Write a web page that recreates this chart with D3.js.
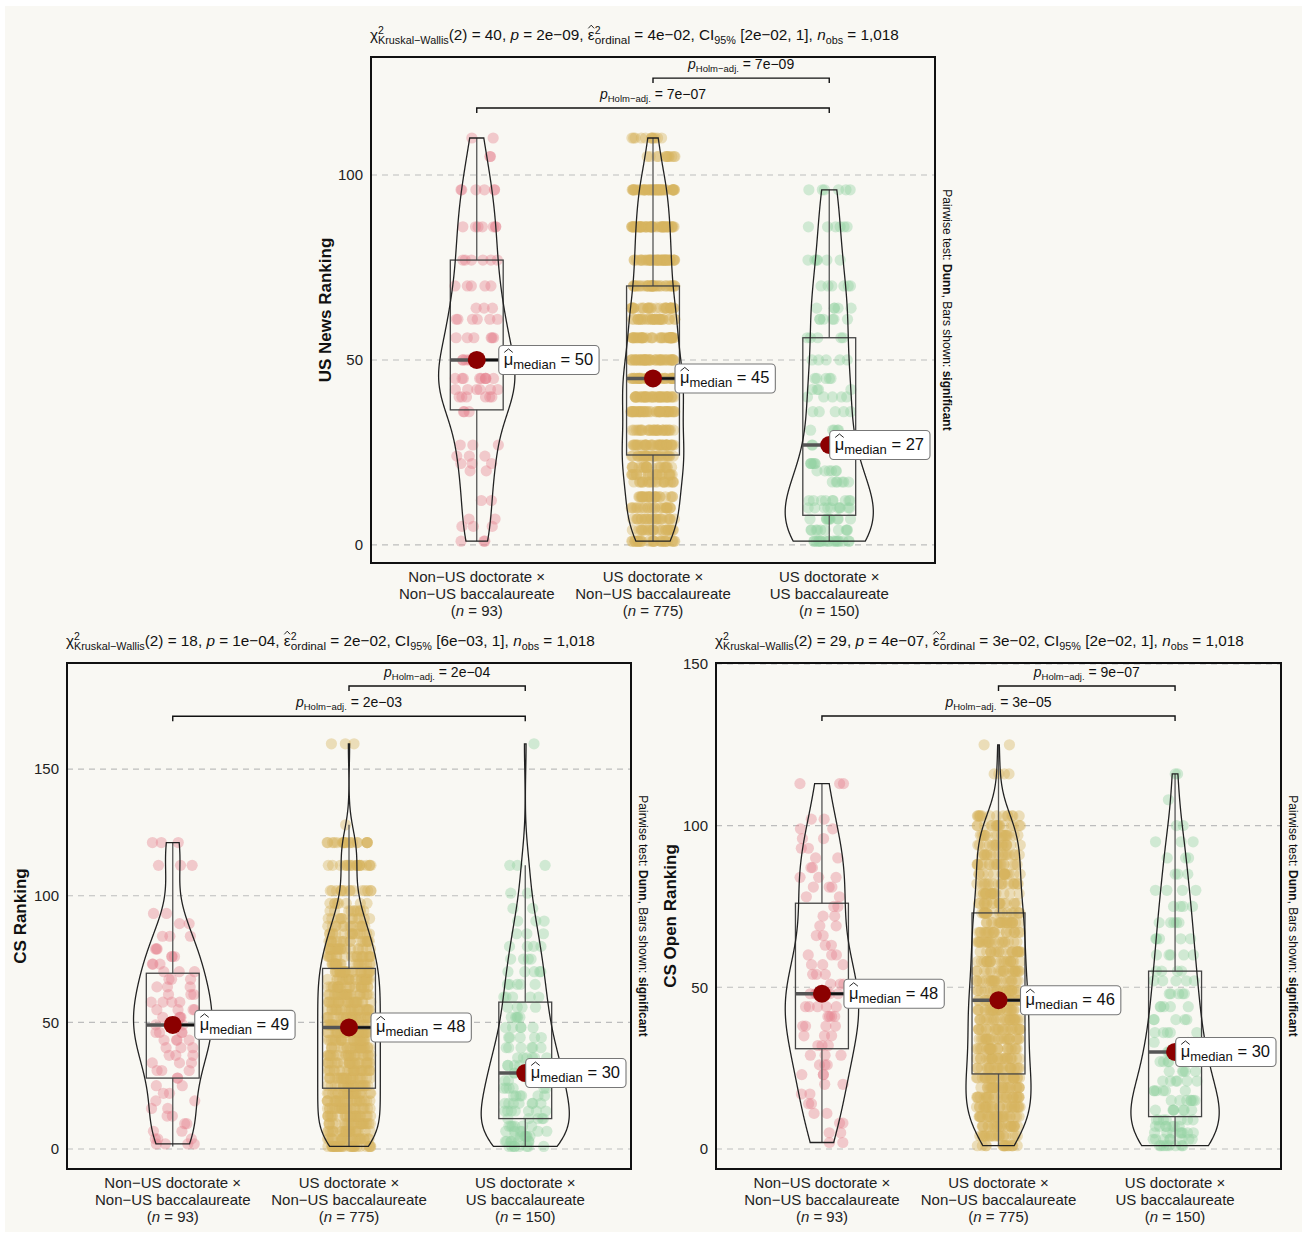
<!DOCTYPE html>
<html><head><meta charset="utf-8">
<script src="https://cdn.jsdelivr.net/npm/d3@7"></script>
<style>
body{margin:0;background:#fff;}
svg text{font-family:"Liberation Sans",Arial,Helvetica,sans-serif;white-space:pre;fill:#111;}
</style></head><body>
<svg id="c" width="1307" height="1236"></svg>
<script>
// ---------------- DATA ----------------
const categories = ["g1","g2","g3"];
const catLine1 = ["Non\u2212US doctorate \u00d7","US doctorate \u00d7","US doctorate \u00d7"];
const catLine2 = ["Non\u2212US baccalaureate","Non\u2212US baccalaureate","US baccalaureate"];
const groupN = [93, 775, 150];
const groupColors = ["#E6818F", "#D6B45F", "#93D2A3"];

// Panel 1: US News Ranking
const usNewsLevels = [
  [1,5,7,12,20,22,24,27,36,40,42,45,50,56,61,64,70,77,86,96,105,110],
  [1,4,7,10,13,17,19,21,24,27,31,36,40,45,50,56,61,64,70,77,86,96,105,110],
  [1,4,7,10,12,17,20,22,27,31,36,40,42,45,50,56,61,64,70,77,86,96]
];
const usNewsCounts = [
  [3,3,2,2,2,3,3,3,3,6,6,9,5,6,6,3,5,6,7,6,2,2],
  [30,25,25,25,25,22,22,22,30,40,30,45,40,50,45,40,30,30,35,45,50,45,12,12],
  [18,10,10,10,9,6,6,6,6,5,5,5,4,5,5,5,6,5,6,6,6,6]
];
const usNewsQ1 = [36.5, 24.3, 8];
const usNewsMedian = [50, 45, 27];
const usNewsQ3 = [77, 70, 56];
const usNewsLow = [1, 1, 1];
const usNewsHigh = [110, 110, 96];
const usNewsStats = {chi:"40", p:"2e\u221209", eps:"4e\u221202", ci:"[2e\u221202, 1]", nobs:"1,018"};
const usNewsPairs = [[1,2,"7e\u221209",126.2],[0,2,"7e\u221207",118.1]];

// Panel 2: CS Ranking
const csLevels = [
  [2,4,7,10,13,16,19,22,25,28,31,34,37,40,43,46,49,52,55,58,61,64,67,70,73,76,79,84,89,93,112,121],
  [1,4,7,10,13,16,19,22,25,28,31,34,37,40,43,46,49,52,55,58,61,64,67,70,73,76,79,82,85,88,91,94,97,102,112,121,128,160],
  [1,3,5,7,9,12,15,18,21,24,27,30,33,36,40,44,48,52,56,60,65,70,75,80,85,90,95,101,112,160]
];
const csCounts = [
  [4,3,2,2,2,2,2,2,2,2,3,3,3,3,4,4,4,4,4,4,3,3,3,3,3,3,3,3,2,2,3,3],
  [30,24,24,24,24,24,24,24,24,24,24,24,24,24,24,24,24,24,24,24,24,24,24,24,22,20,20,18,16,14,12,10,8,15,20,20,1,3],
  [8,7,7,6,6,5,7,7,6,6,6,5,6,6,6,5,5,5,4,5,5,5,4,4,3,3,2,2,3,1]
];
const csQ1 = [28, 24, 12];
const csMedian = [49, 48, 30];
const csQ3 = [69.4, 71.3, 58];
const csLow = [1, 1, 1];
const csHigh = [121, 128, 112];
const csStats = {chi:"18", p:"1e\u221204", eps:"2e\u221202", ci:"[6e\u221203, 1]", nobs:"1,018"};
const csPairs = [[1,2,"2e\u221204",182.8],[0,2,"2e\u221203",170.9]];

// Panel 3: CS Open Ranking
const openLevels = [
  [2,5,8,11,14,17,20,23,26,29,32,35,38,41,44,48,51,54,57,60,63,66,69,72,75,78,81,84,87,90,93,96,99,102,113],
  [1,4,7,10,13,16,19,22,25,28,31,34,37,40,43,46,49,52,55,58,61,64,67,70,73,76,79,82,85,88,91,94,97,100,103,116,125],
  [1,3,5,7,9,12,15,18,21,24,27,30,33,36,40,44,48,52,55,60,65,70,75,80,85,90,95,100,108,116]
];
const openCounts = [
  [2,2,2,2,2,2,2,3,3,3,3,3,4,4,5,6,3,3,3,3,2,2,2,2,2,2,3,3,2,2,2,2,2,2,3],
  [16,20,24,26,27,27,27,27,24,24,24,24,24,24,25,25,22,22,22,22,21,21,21,21,21,18,18,17,17,18,17,17,17,16,14,4,2],
  [8,8,8,7,7,7,7,6,6,5,5,5,5,5,5,5,5,5,4,5,5,5,4,4,3,3,3,2,1,2]
];
const openQ1 = [31, 23.2, 10];
const openMedian = [48, 46, 30];
const openQ3 = [76, 73, 55];
const openLow = [2, 1, 1];
const openHigh = [113, 125, 116];
const openStats = {chi:"29", p:"4e\u221207", eps:"3e\u221202", ci:"[2e\u221202, 1]", nobs:"1,018"};
const openPairs = [[1,2,"9e\u221207",143.2],[0,2,"3e\u221205",133.9]];

const yTicks1 = [0, 50, 100];
const yTicks2 = [0, 50, 100, 150];
const yTicks3 = [0, 50, 100, 150];

// ---------------- LAYOUT ----------------
const panels = [
  {title:"US News Ranking", levels:usNewsLevels, counts:usNewsCounts, q1:usNewsQ1, med:usNewsMedian, q3:usNewsQ3, lo:usNewsLow, hi:usNewsHigh, stats:usNewsStats, pairs:usNewsPairs, ticks:yTicks1,
   L:371, R:935, T:57, B:563, dom:[-4.9,131.9], ytx:325, seed:11},
  {title:"CS Ranking", levels:csLevels, counts:csCounts, q1:csQ1, med:csMedian, q3:csQ3, lo:csLow, hi:csHigh, stats:csStats, pairs:csPairs, ticks:yTicks2,
   L:67, R:631, T:663, B:1169, dom:[-7.9,191.9], ytx:20, seed:23},
  {title:"CS Open Ranking", levels:openLevels, counts:openCounts, q1:openQ1, med:openMedian, q3:openQ3, lo:openLow, hi:openHigh, stats:openStats, pairs:openPairs, ticks:yTicks3,
   L:716, R:1281, T:663, B:1169, dom:[-6.2,150.3], ytx:670, seed:37}
];

const svg = d3.select("#c");
svg.append("rect").attr("x",0).attr("y",0).attr("width",1307).attr("height",1236).attr("fill","#fff");
svg.append("rect").attr("x",5).attr("y",6).attr("width",1297).attr("height",1226).attr("fill","#F9F8F3");

function rich(parent, x, y, segs, anchor) {
  const g = parent.append("g");
  let cx = 0;
  const put = (s, xx) => {
    const t = g.append("text").attr("x", xx).attr("y", s.dy || 0)
      .style("font-size", s.size + "px").text(s.t);
    if (s.italic) t.style("font-style", "italic");
    if (s.bold) t.style("font-weight", "bold");
    const w = t.node().getComputedTextLength();
    if (s.hat) {
      const a = -s.size * 0.76, b = -s.size * 0.97;
      g.append("path").attr("d", `M${xx + 0.5},${a}L${xx + w / 2},${b}L${xx + w - 0.5},${a}`)
        .attr("fill", "none").attr("stroke", "#111").attr("stroke-width", 0.9);
    }
    return w;
  };
  for (const s of segs) {
    if (s.stack) {
      let w = 0;
      for (const p of s.stack) w = Math.max(w, put(p, cx));
      cx += w;
    } else cx += put(s, cx);
  }
  const off = anchor === "middle" ? -cx / 2 : anchor === "end" ? -cx : 0;
  g.attr("transform", `translate(${x + off},${y})`);
  return {g, w: cx};
}

function lcg(seed) { let s = seed >>> 0; return () => { s = (Math.imul(s, 1664525) + 1013904223) >>> 0; return s / 4294967296; }; }

function kde(vals) {
  const v = vals.slice().sort((a,b)=>a-b);
  const n = v.length;
  const sd = d3.deviation(v);
  const iqr = d3.quantile(v, 0.75) - d3.quantile(v, 0.25);
  let lo = Math.min(sd, iqr / 1.34); if (!(lo > 0)) lo = sd || 1;
  const bw = 0.9 * lo * Math.pow(n, -0.2);
  const mn = v[0], mx = v[n - 1];
  return d3.range(512).map(i => {
    const x = mn + (mx - mn) * i / 511;
    return [x, d3.sum(v, u => Math.exp(-0.5 * ((x - u) / bw) ** 2)) / (n * bw * Math.sqrt(2 * Math.PI))];
  });
}

const labelLayer = [];

panels.forEach(P => {
  const g = svg.append("g");
  const x = d3.scalePoint().domain(categories).range([P.L, P.R]).padding(0.6);
  const step = x.step();
  const y = d3.scaleLinear().domain(P.dom).range([P.B, P.T]);

  g.selectAll("line.grid").data(P.ticks).join("line")
    .attr("x1", P.L).attr("x2", P.R).attr("y1", d => y(d)).attr("y2", d => y(d))
    .attr("stroke", "#BDBDBD").attr("stroke-width", 1.1).attr("stroke-dasharray", "6,5");

  const ax = g.append("g").attr("transform", `translate(${P.L},0)`)
    .call(d3.axisLeft(y).tickValues(P.ticks).tickSize(0).tickPadding(8));
  ax.select(".domain").remove();
  ax.selectAll("text").style("font-size", "15px").style("fill", "#222")
    .style("font-family", '"Liberation Sans",Arial,sans-serif');

  g.append("text").attr("transform", `translate(${P.ytx + 6},${(P.T + P.B) / 2}) rotate(-90)`)
    .attr("text-anchor", "middle").style("font-size", "17px").style("font-weight", "bold").text(P.title);

  const groups = categories.map((c, gi) => {
    const vals = [];
    P.levels[gi].forEach((lv, k) => { for (let j = 0; j < P.counts[gi][k]; j++) vals.push(lv); });
    return vals;
  });
  const dens = groups.map(kde);
  const maxD = d3.max(dens, d => d3.max(d, e => e[1]));

  categories.forEach((c, gi) => {
    const cx = x(c);
    const rnd = lcg(P.seed * 100 + gi * 7 + 1);
    g.append("g").selectAll("circle").data(groups[gi]).join("circle")
      .attr("cx", () => cx + (rnd() - 0.5) * 0.25 * step)
      .attr("cy", d => y(d)).attr("r", 5.6)
      .attr("fill", groupColors[gi]).attr("fill-opacity", 0.4);
  });

  categories.forEach((c, gi) => {
    const cx = x(c);
    const bw = 0.3 * step / 2;
    g.append("line").attr("x1", cx).attr("x2", cx).attr("y1", y(P.lo[gi])).attr("y2", y(P.q1[gi]))
      .attr("stroke", "#555").attr("stroke-width", 1.3);
    g.append("line").attr("x1", cx).attr("x2", cx).attr("y1", y(P.q3[gi])).attr("y2", y(P.hi[gi]))
      .attr("stroke", "#555").attr("stroke-width", 1.3);
    g.append("rect").attr("x", cx - bw).attr("width", 2 * bw)
      .attr("y", y(P.q3[gi])).attr("height", y(P.q1[gi]) - y(P.q3[gi]))
      .attr("fill", "none").attr("stroke", "#444").attr("stroke-width", 1.3);
    const hw = d => d[1] / maxD * 0.25 * step;
    const area = d3.area().y(d => y(d[0])).x0(d => cx - hw(d)).x1(d => cx + hw(d));
    g.append("path").attr("d", area(dens[gi])).attr("fill", "none")
      .attr("stroke", "#222").attr("stroke-width", 1.3);
    g.append("line").attr("x1", cx - bw).attr("x2", cx + bw).attr("y1", y(P.med[gi])).attr("y2", y(P.med[gi]))
      .attr("stroke", "#555").attr("stroke-width", 3.5);
    labelLayer.push({P, cx, cy: y(P.med[gi]), med: P.med[gi], g});
  });

  g.append("rect").attr("x", P.L).attr("y", P.T).attr("width", P.R - P.L).attr("height", P.B - P.T)
    .attr("fill", "none").attr("stroke", "#111").attr("stroke-width", 2);

  categories.forEach((c, gi) => {
    const cx = x(c);
    const t = g.append("text").attr("text-anchor", "middle").style("font-size", "15px").style("fill", "#222");
    t.append("tspan").attr("x", cx).attr("y", P.B + 19).text(catLine1[gi]);
    t.append("tspan").attr("x", cx).attr("y", P.B + 36).text(catLine2[gi]);
    const t3 = t.append("tspan").attr("x", cx).attr("y", P.B + 53);
    t3.append("tspan").text("(");
    t3.append("tspan").style("font-style", "italic").text("n");
    t3.append("tspan").text(" = " + groupN[gi] + ")");
  });

  const S = P.stats;
  rich(g, P.L - 1, P.T - 17, [
    {t:"\u03c7", size:15.3},
    {stack:[{t:"2", size:10.5, dy:-6.5}, {t:"Kruskal\u2212Wallis", size:10.8, dy:4}]},
    {t:"(2) = " + S.chi + ", ", size:15.3},
    {t:"p", size:15.3, italic:true},
    {t:" = " + S.p + ", ", size:15.3},
    {t:"\u03b5", size:15.3, hat:true},
    {stack:[{t:"2", size:10.5, dy:-6.5}, {t:"ordinal", size:11.8, dy:4}]},
    {t:" = " + S.eps + ", CI", size:15.3},
    {t:"95%", size:10.8, dy:4},
    {t:" " + S.ci + ", ", size:15.3},
    {t:"n", size:15.3, italic:true},
    {t:"obs", size:10.8, dy:4},
    {t:" = " + S.nobs, size:15.3}
  ], "start");

  P.pairs.forEach(pr => {
    const x1 = x(categories[pr[0]]), x2 = x(categories[pr[1]]), yy = y(pr[3]);
    g.append("path").attr("d", `M${x1},${yy + 5}V${yy}H${x2}V${yy + 5}`)
      .attr("fill", "none").attr("stroke", "#111").attr("stroke-width", 1.4);
    rich(g, (x1 + x2) / 2, yy - 9, [
      {t:"p", size:14, italic:true},
      {t:"Holm\u2212adj.", size:9.5, dy:3},
      {t:" = " + pr[2], size:14}
    ], "middle");
  });

  const pt = g.append("text").attr("transform", `translate(${P.R + 8},${(P.T + P.B) / 2}) rotate(90)`)
    .attr("text-anchor", "middle").style("font-size", "12px");
  pt.append("tspan").text("Pairwise test: ");
  pt.append("tspan").style("font-weight", "bold").text("Dunn");
  pt.append("tspan").text(", Bars shown: ");
  pt.append("tspan").style("font-weight", "bold").text("significant");
});

labelLayer.forEach(L => {
  const g = L.g;
  const tmp = rich(g, 0, 0, [
    {t:"\u03bc", size:16.5, hat:true},
    {t:"median", size:13, dy:4},
    {t:" = " + L.med, size:16.5}
  ], "start");
  const w = tmp.w + 11, h = 29;
  let lx = L.cx + 22;
  if (lx + w > L.P.R - 5) lx = L.P.R - 5 - w;
  g.append("line").attr("x1", L.cx).attr("x2", lx).attr("y1", L.cy).attr("y2", L.cy)
    .attr("stroke", "#111").attr("stroke-width", 2.2);
  g.append("circle").attr("cx", L.cx).attr("cy", L.cy).attr("r", 9).attr("fill", "#8B0000");
  g.append("rect").attr("x", lx).attr("y", L.cy - h / 2).attr("width", w).attr("height", h)
    .attr("rx", 4).attr("fill", "#fff").attr("stroke", "#777").attr("stroke-width", 1.1);
  tmp.g.raise().attr("transform", `translate(${lx + 5},${L.cy + 5})`);
});
</script>
</body></html>
